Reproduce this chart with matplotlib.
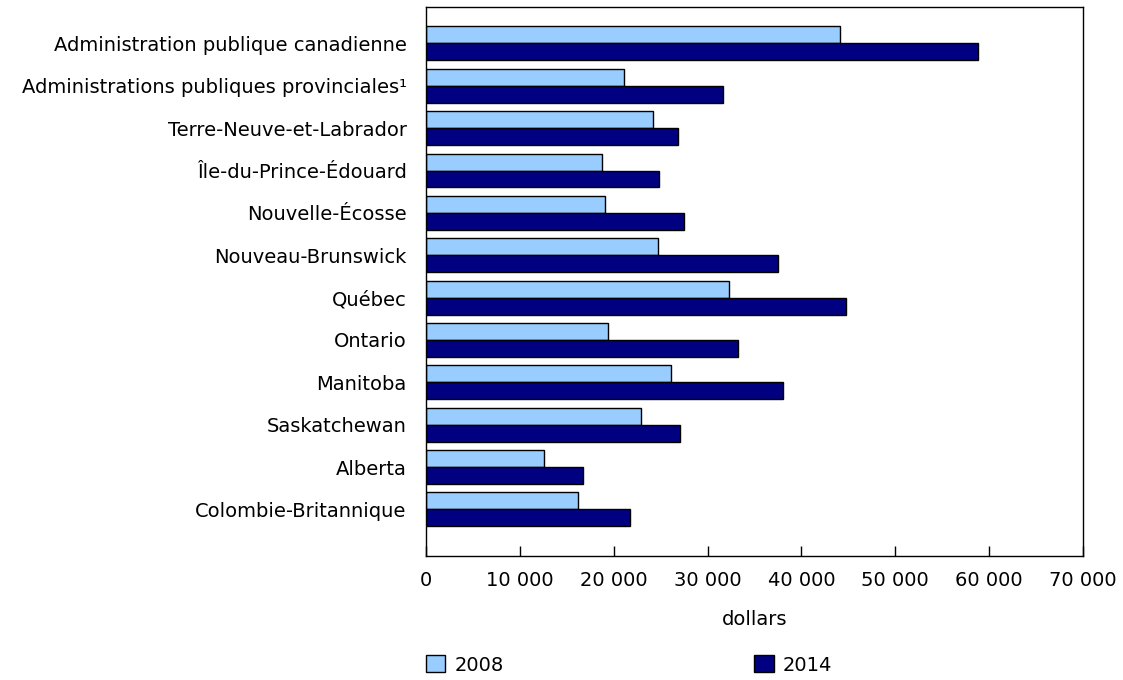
import numpy as np
from matplotlib import pyplot as plt
from matplotlib.patches import Patch
from matplotlib.ticker import FuncFormatter

# data (dollars)
categories = [
    "Administration publique canadienne",
    "Administrations publiques provinciales\u00b9",
    "Terre-Neuve-et-Labrador",
    "Île-du-Prince-Édouard",
    "Nouvelle-Écosse",
    "Nouveau-Brunswick",
    "Québec",
    "Ontario",
    "Manitoba",
    "Saskatchewan",
    "Alberta",
    "Colombie-Britannique",
]
values_2008 = [44100, 21100, 24200, 18700, 19100, 24700, 32300, 19400, 26100, 22900, 12600, 16200]
values_2014 = [58800, 31600, 26900, 24800, 27500, 37500, 44700, 33200, 38000, 27100, 16700, 21700]
x_ticks = [0, 10000, 20000, 30000, 40000, 50000, 60000, 70000]

color_2008 = "#99CCFF"
color_2014 = "#000080"
fs = 14

plt.rcParams['font.family'] = ['DejaVu Sans']

fig = plt.figure(figsize=(11.23, 6.8), dpi=100)
ax = fig.add_axes([426 / 1123, 1 - 556 / 680, (1083 - 426) / 1123, (556 - 7) / 680])

y = np.arange(len(categories))
h = 0.4
ax.barh(y - h / 2, values_2008, height=h, color=color_2008, edgecolor='black', linewidth=1, label='2008')
ax.barh(y + h / 2, values_2014, height=h, color=color_2014, edgecolor='black', linewidth=1, label='2014')

ax.set_xlim(0, 70000)
ax.set_ylim(12.10, -0.86)
ax.set_xticks(x_ticks)
ax.xaxis.set_major_formatter(FuncFormatter(lambda v, p: f"{int(v):,}".replace(",", " ")))
ax.set_yticks(y)
ax.set_yticklabels(categories)
ax.tick_params(axis='y', length=0, pad=14, labelsize=fs)
ax.tick_params(axis='x', direction='in', length=7, width=1, pad=11, labelsize=fs)
ax.set_xlabel('dollars', fontsize=fs, labelpad=14)
for s in ax.spines.values():
    s.set_linewidth(1)

handles = [Patch(facecolor=color_2008, edgecolor='black', label='2008'),
           Patch(facecolor=color_2014, edgecolor='black', label='2014')]
fig.legend(handles=handles, loc='center left', bbox_to_anchor=(426 / 1123, 1 - 665 / 680),
           ncol=2, frameon=False, fontsize=fs, handlelength=1.0, handleheight=0.95,
           handletextpad=0.45, columnspacing=12.9, borderpad=0, borderaxespad=0)

fig.savefig('out.png', dpi=100)
